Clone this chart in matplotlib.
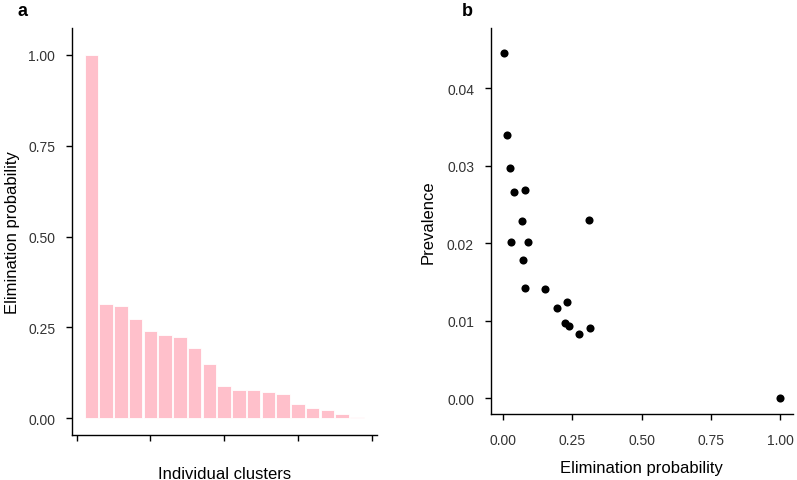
import matplotlib
matplotlib.use("Agg")
import matplotlib.pyplot as plt
import numpy as np

plt.rcParams['font.family'] = ['Liberation Sans', 'DejaVu Sans']

# Elimination probability per cluster (sorted descending) and matching prevalence
elim_prob = [1.0, 0.314, 0.309, 0.274, 0.239, 0.229, 0.223, 0.194, 0.150, 0.088,
             0.079, 0.078, 0.072, 0.068, 0.038, 0.028, 0.023, 0.013, 0.004]
prevalence = [0.0, 0.00911, 0.02297, 0.0083, 0.00929, 0.01243, 0.00968, 0.01169,
              0.01414, 0.02017, 0.02679, 0.01423, 0.01781, 0.02288, 0.02653,
              0.02017, 0.02975, 0.03394, 0.04452]
clusters = list(range(1, len(elim_prob) + 1))

ytick_a = [0.0, 0.25, 0.5, 0.75, 1.0]
xtick_a = [0, 5, 10, 15, 20]
ytick_b = [0.0, 0.01, 0.02, 0.03, 0.04]
xtick_b = [0.0, 0.25, 0.5, 0.75, 1.0]

W, H = 797, 481
fig = plt.figure(figsize=(W / 100, H / 100), dpi=100)

def axrect(x0, y0, x1, y1):
    return [x0 / W, 1 - y1 / H, (x1 - x0) / W, (y1 - y0) / H]

ax1 = fig.add_axes(axrect(72, 29.3, 376.7, 436))
ax2 = fig.add_axes(axrect(490.7, 29.3, 793, 415))

ax1.bar(clusters, elim_prob, width=0.92, color='#FFC0CB', edgecolor='white', linewidth=0.6)
ax1.set_xlim(-0.32, 20.34)
ax1.set_ylim(-0.046, 1.073)
ax1.set_xticks(xtick_a)
ax1.set_xticklabels([])
ax1.set_yticks(ytick_a)
ax1.set_yticklabels([f"{v:.2f}" for v in ytick_a])
ax1.set_xlabel("Individual clusters", fontsize=12, labelpad=8.5)
ax1.set_ylabel("Elimination probability", fontsize=12, labelpad=6)

ax2.scatter(elim_prob, prevalence, s=34, color='black', linewidths=0, zorder=3)
ax2.set_xlim(-0.0455, 1.047)
ax2.set_ylim(-0.00203, 0.0477)
ax2.set_xticks(xtick_b)
ax2.set_xticklabels([f"{v:.2f}" for v in xtick_b])
ax2.set_yticks(ytick_b)
ax2.set_yticklabels([f"{v:.2f}" for v in ytick_b])
ax2.set_xlabel("Elimination probability", fontsize=12, labelpad=9)
ax2.set_ylabel("Prevalence", fontsize=12, labelpad=8)

for ax in (ax1, ax2):
    for s in ('top', 'right'):
        ax.spines[s].set_visible(False)
    for s in ('left', 'bottom'):
        ax.spines[s].set_linewidth(1.0)
        ax.spines[s].set_color('black')
    ax.tick_params(axis='both', direction='out', length=4, width=1.0,
                   colors='black', labelsize=10, labelcolor='#333333')
    ax.tick_params(axis='y', pad=8)
    ax.tick_params(axis='x', pad=10)
    ax.set_facecolor('white')

fig.text(22 / W, 1 - 12 / H, "a", fontsize=13, fontweight='bold', ha='center', va='center')
fig.text(467 / W, 1 - 12 / H, "b", fontsize=13, fontweight='bold', ha='center', va='center')

fig.savefig("out.png", dpi=100, facecolor='white')
